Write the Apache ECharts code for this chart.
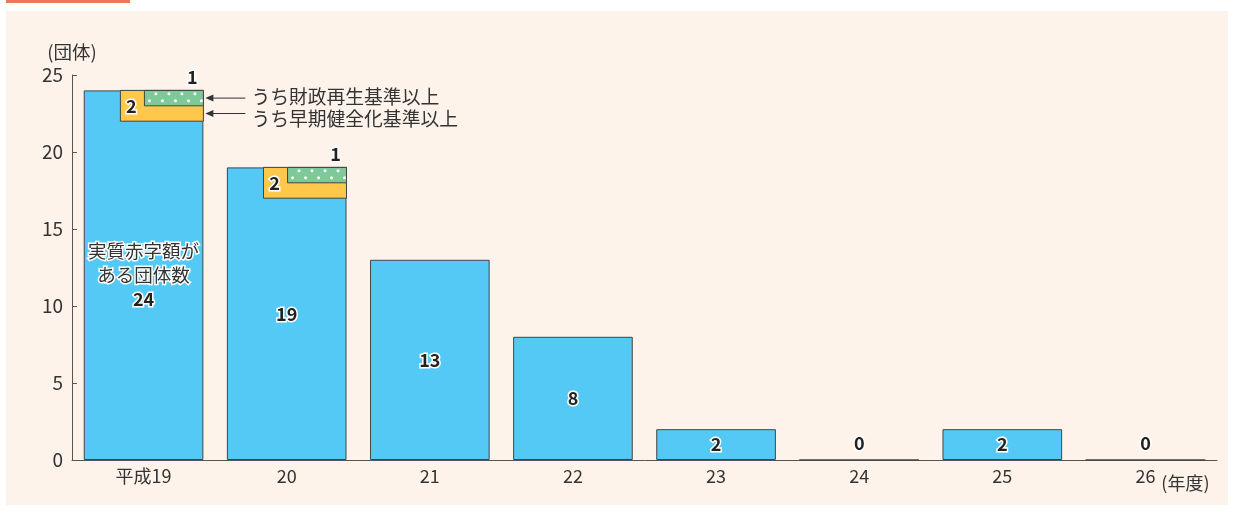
<!DOCTYPE html>
<html>
<head>
<meta charset="utf-8">
<script src="https://cdn.jsdelivr.net/npm/echarts@6/dist/echarts.min.js"></script>
<style>
html,body{margin:0;padding:0;background:#fff;}
#c{width:1237px;height:513px;}
</style>
</head>
<body>
<div id="c"></div>
<script>
const categories = ['平成19', '20', '21', '22', '23', '24', '25', '26'];
const deficitCounts = [24, 19, 13, 8, 2, 0, 2, 0];          // 実質赤字額がある団体数
const earlyHealthCounts = [2, 2, 0, 0, 0, 0, 0, 0];        // うち早期健全化基準以上
const rebuildCounts = [1, 1, 0, 0, 0, 0, 0, 0];            // うち財政再生基準以上
const yTicks = { min: 0, max: 25, interval: 5 };
const noteRebuild = 'うち財政再生基準以上';
const noteEarly = 'うち早期健全化基準以上';
const firstLabel = ['実質赤字額が', 'ある団体数'];

const FONT = '"Noto Sans CJK JP", "Noto Sans", sans-serif';
const TXT = '#333';

const chart = echarts.init(document.getElementById('c'), null, { renderer: 'canvas' });

const barData = deficitCounts.map((v, i) => {
  const item = { value: v };
  if (v === 0) item.label = { position: 'top', distance: 7 };
  return item;
});

const subData = categories.map((c, i) => [i, deficitCounts[i], earlyHealthCounts[i], rebuildCounts[i]]);

function numText(x, y, t) {
  return {
    type: 'text',
    style: {
      x: x, y: y, text: t, align: 'center', verticalAlign: 'middle',
      font: 'bold 18px ' + FONT, fill: '#222', stroke: '#fff', lineWidth: 3
    },
    z2: 10
  };
}

function arrow(xTip, y, xEnd, text, dy) {
  return [
    { type: 'line', shape: { x1: xTip + 5, y1: y, x2: xEnd, y2: y }, style: { stroke: '#333', lineWidth: 1 } },
    { type: 'polygon', shape: { points: [[xTip, y], [xTip + 8, y - 3.5], [xTip + 8, y + 3.5]] }, style: { fill: '#333' } },
    { type: 'text', style: { x: xEnd + 6, y: y + dy, text: text, align: 'left', verticalAlign: 'middle', font: '18.8px ' + FONT, fill: TXT } }
  ];
}

function renderSub(params, api) {
  const i = api.value(0), total = api.value(1), early = api.value(2), reb = api.value(3);
  if (!early && !reb) return null;
  const band = api.size([1, 0])[0];
  const c = api.coord([i, total]);
  const right = c[0] + band * 0.418;
  const yTop = c[1];
  const yEarly = api.coord([i, total - early])[1];
  const yReb = api.coord([i, total - reb])[1];
  const yl = right - band * 0.58;
  const gl = right - band * 0.412;
  const children = [];
  children.push({ type: 'rect', shape: { x: yl, y: yTop, width: right - yl, height: yEarly - yTop },
    style: { fill: '#ffc84a', stroke: '#444', lineWidth: 1 } });
  children.push({ type: 'rect', shape: { x: gl, y: yTop, width: right - gl, height: yReb - yTop },
    style: { fill: '#7ec99a', stroke: '#444', lineWidth: 1 } });
  // dots
  const h = yReb - yTop;
  const r1 = yTop + h * 0.22, r2 = yTop + h * 0.68;
  for (let x = gl + 11.5; x < right - 2; x += 13) {
    children.push({ type: 'circle', shape: { cx: x, cy: r1, r: 1.5 }, style: { fill: '#fff' } });
  }
  for (let x = gl + 5; x < right; x += 13) {
    children.push({ type: 'circle', shape: { cx: x, cy: r2, r: 1.5 }, style: { fill: '#fff' } });
  }
  children.push(numText(yl + 11, (yTop + yEarly) / 2, String(early)));
  children.push(numText(right - 11, yTop - 13, String(reb)));
  if (i === 0) {
    arrow(right + 2, (yTop + yReb) / 2, right + 42, noteRebuild, -1).forEach(e => children.push(e));
    arrow(right + 2, (yReb + yEarly) / 2, right + 42, noteEarly, 5).forEach(e => children.push(e));
  }
  return { type: 'group', children: children };
}

chart.setOption({
  backgroundColor: '#ffffff',
  animation: false,
  textStyle: { fontFamily: FONT },
  graphic: [
    { type: 'rect', shape: { x: 6, y: 11, width: 1222, height: 494 }, style: { fill: '#fdf3ea' }, z: -10, silent: true },
    { type: 'rect', shape: { x: 6, y: 0, width: 124, height: 3 }, style: { fill: '#e8795a' }, z: -10, silent: true }
  ],
  grid: { left: 72, right: 20, top: 75, bottom: 53 },
  xAxis: {
    type: 'category',
    data: categories,
    name: '(年度)',
    nameLocation: 'end',
    nameGap: -58,
    nameTextStyle: { color: TXT, fontSize: 18, verticalAlign: 'top', padding: [14, 0, 0, 0], fontFamily: FONT },
    axisLine: { lineStyle: { color: '#555', width: 1 } },
    axisTick: { show: false },
    axisLabel: { color: TXT, fontSize: 18, margin: 7, fontFamily: FONT }
  },
  yAxis: {
    type: 'value',
    min: yTicks.min, max: yTicks.max, interval: yTicks.interval,
    name: '(団体)',
    nameLocation: 'end',
    nameGap: 14,
    nameTextStyle: { color: TXT, fontSize: 18.5, fontFamily: FONT, align: 'center', padding: [0, 0, 0, 0] },
    axisLine: { show: true, lineStyle: { color: '#555', width: 1 } },
    axisTick: { show: true, inside: true, length: 5, lineStyle: { color: '#555' } },
    axisLabel: { color: TXT, fontSize: 19, margin: 9, fontFamily: FONT },
    splitLine: { show: false }
  },
  series: [
    {
      type: 'bar',
      data: barData,
      barWidth: '83.6%',
      itemStyle: { color: '#55c9f5', borderColor: '#444', borderWidth: 1 },
      label: {
        show: true,
        position: 'inside',
        color: '#222',
        fontSize: 18,
        fontWeight: 'bold',
        fontFamily: FONT,
        textBorderColor: '#fff',
        textBorderWidth: 3,
        formatter: function (p) {
          if (p.dataIndex === 0) {
            return '{t|' + firstLabel[0] + '}\n{t|' + firstLabel[1] + '}\n{n|' + p.value + '}';
          }
          return String(p.value);
        },
        rich: {
          t: { fontSize: 18.5, fontWeight: 'normal', color: '#333', textBorderColor: '#fff', textBorderWidth: 3, lineHeight: 24, fontFamily: FONT },
          n: { fontSize: 18, fontWeight: 'bold', color: '#222', textBorderColor: '#fff', textBorderWidth: 3, lineHeight: 24, fontFamily: FONT }
        }
      },
      z: 2
    },
    {
      type: 'custom',
      data: subData,
      renderItem: renderSub,
      encode: { x: 0, y: 1 },
      z: 3,
      clip: false
    }
  ]
});
</script>
</body>
</html>
